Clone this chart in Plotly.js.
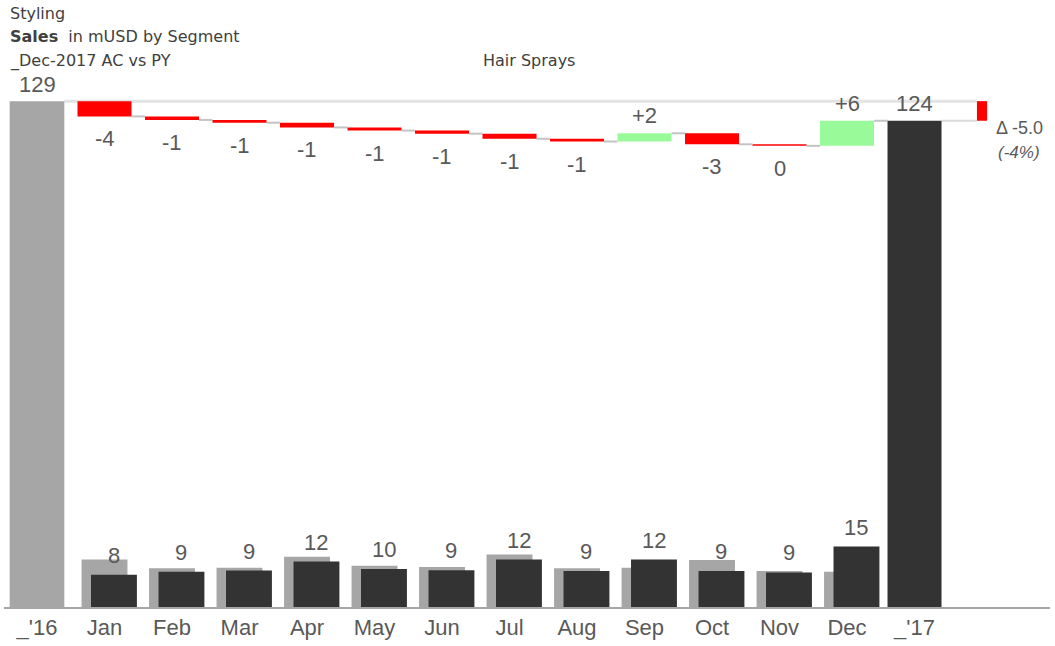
<!DOCTYPE html>
<html>
<head>
<meta charset="utf-8">
<script src="https://cdn.plot.ly/plotly-3.0.1.min.js"></script>
<style>
  html, body { margin: 0; padding: 0; background: #fff; }
  #chart { width: 1055px; height: 646px; }
</style>
</head>
<body>
<div id="chart"></div>
<script>
// Sales in mUSD, Hair Sprays segment: previous year (PY) vs actual (AC)
const categories = ["_'16", "Jan", "Feb", "Mar", "Apr", "May", "Jun", "Jul", "Aug", "Sep", "Oct", "Nov", "Dec", "_'17"];
const months = ["Jan", "Feb", "Mar", "Apr", "May", "Jun", "Jul", "Aug", "Sep", "Oct", "Nov", "Dec"];
const py = [12.1, 9.9, 10.0, 12.8, 10.5, 10.2, 13.4, 9.9, 10.0, 12.0, 9.2, 9.0];
const ac = [8.2, 9.0, 9.3, 11.6, 9.7, 9.4, 12.1, 9.2, 12.1, 9.2, 8.8, 15.4];
const segmentName = "Hair Sprays";

// colours
const C_PY = "#a6a6a6";
const C_AC = "#333333";
const C_NEG = "#ff0000";
const C_POS = "#98fa98";
const C_TXT = "#595959";

const round1 = v => Math.round(v * 10) / 10;
const pyTotal = round1(py.reduce((a, b) => a + b, 0));
const acTotal = round1(ac.reduce((a, b) => a + b, 0));
const delta = months.map((m, i) => round1(ac[i] - py[i]));
const totalDelta = round1(acTotal - pyTotal);
const totalPct = totalDelta / pyTotal * 100;

// running level of the variance bridge, starting from last year's total
const start = [];
let level = pyTotal;
delta.forEach(d => { start.push(level); level = round1(level + d); });
const ends = start.map((s, i) => round1(s + delta[i]));

// x positions: category index; the variance column sits one step past the last category
const xIdx = categories.map((c, i) => i);
const monthX = months.map((m, i) => i + 1);
const deltaX = categories.length;

const W_TOT = 0.81, W_BRIDGE = 0.8, W_MONTH = 0.68, AC_SHIFT = 0.14, W_DELTA = 0.15;

const signed = v => {
  const r = Math.round(v);
  return (r > 0 ? "+" : "") + String(r === 0 ? 0 : r);
};

const traces = [
  { type: "bar", x: [xIdx[0]], y: [pyTotal], width: W_TOT, marker: { color: C_PY }, hoverinfo: "skip" },
  { type: "bar", x: [xIdx[categories.length - 1]], y: [acTotal], width: W_BRIDGE, marker: { color: C_AC }, hoverinfo: "skip" },
  { type: "bar", x: monthX, y: py, width: W_MONTH, marker: { color: C_PY }, hoverinfo: "skip" },
  { type: "bar", x: monthX.map(x => x + AC_SHIFT), y: ac, width: W_MONTH, marker: { color: C_AC }, hoverinfo: "skip" },
  { type: "bar", x: monthX, y: delta, base: start, width: W_BRIDGE,
    marker: { color: delta.map(d => d >= 0 ? C_POS : C_NEG) }, hoverinfo: "skip" },
  { type: "bar", x: [deltaX], y: [totalDelta], base: [pyTotal], width: W_DELTA,
    marker: { color: totalDelta >= 0 ? C_POS : C_NEG }, hoverinfo: "skip" }
];

// reference and connector lines
const shapes = [];
shapes.push({ type: "line", xref: "x", yref: "y", x0: xIdx[0] + W_TOT / 2, x1: deltaX - W_DELTA / 2,
  y0: pyTotal, y1: pyTotal, line: { color: "#e3e3e3", width: 3 }, layer: "below" });
shapes.push({ type: "line", xref: "x", yref: "y", x0: xIdx[categories.length - 1] + W_BRIDGE / 2, x1: deltaX - W_DELTA / 2,
  y0: acTotal, y1: acTotal, line: { color: "#d9d9d9", width: 2 }, layer: "below" });
ends.forEach((e, i) => {
  shapes.push({ type: "line", xref: "x", yref: "y", x0: monthX[i] + W_BRIDGE / 2, x1: monthX[i] + 1 - W_BRIDGE / 2,
    y0: e, y1: e, line: { color: "#c4c4c4", width: 2 }, layer: "below" });
});

const numFont = { family: "Liberation Sans, Arial, sans-serif", size: 22, color: C_TXT };
const headFont = { family: "DejaVu Sans, sans-serif", size: 16, color: "#404040" };

const annotations = [];
annotations.push({ x: xIdx[0], y: pyTotal, text: String(Math.round(pyTotal)), showarrow: false,
  yanchor: "bottom", yshift: 2, font: numFont });
annotations.push({ x: xIdx[categories.length - 1], y: acTotal, text: String(Math.round(acTotal)), showarrow: false,
  yanchor: "bottom", yshift: 3, font: numFont });
ac.forEach((v, i) => {
  annotations.push({ x: monthX[i] + AC_SHIFT, y: v, text: String(Math.round(v)), showarrow: false,
    yanchor: "bottom", yshift: 5, font: numFont });
});
delta.forEach((d, i) => {
  const pos = d > 0;
  annotations.push({ x: monthX[i], y: ends[i], text: signed(d), showarrow: false,
    yanchor: pos ? "bottom" : "top", yshift: pos ? 3 : -8, font: numFont });
});
annotations.push({ x: deltaX, y: acTotal, text: "\u0394 " + totalDelta.toFixed(1), showarrow: false,
  xanchor: "center", xshift: 37, yanchor: "middle", yshift: -7,
  font: { family: "Liberation Sans, Arial, sans-serif", size: 18, color: C_TXT } });
annotations.push({ x: deltaX, y: acTotal, text: "<i>(" + Math.round(totalPct) + "%)</i>", showarrow: false,
  xanchor: "center", xshift: 37, yanchor: "middle", yshift: -32,
  font: { family: "Liberation Sans, Arial, sans-serif", size: 17, color: C_TXT } });

// header lines
annotations.push({ xref: "paper", yref: "paper", x: 0.0038, y: 1.0815, xanchor: "left", yanchor: "middle",
  text: "Styling", showarrow: false, font: headFont });
annotations.push({ xref: "paper", yref: "paper", x: 0.0038, y: 1.0395, xanchor: "left", yanchor: "middle",
  text: "<b>Sales</b>\u00a0 in mUSD by Segment", showarrow: false, font: headFont });
annotations.push({ xref: "paper", yref: "paper", x: 0.0038, y: 0.9950, xanchor: "left", yanchor: "middle",
  text: "_Dec-2017 AC vs PY", showarrow: false, font: headFont });
annotations.push({ xref: "paper", yref: "paper", x: 0.5019, y: 0.9950, xanchor: "center", yanchor: "middle",
  text: segmentName, showarrow: false, font: headFont });

const layout = {
  width: 1055, height: 646,
  margin: { l: 4, r: 5, t: 58, b: 39, pad: 0 },
  paper_bgcolor: "#ffffff", plot_bgcolor: "#ffffff",
  barmode: "overlay",
  showlegend: false,
  xaxis: {
    type: "linear", range: [-0.4889, 15.007],
    tickmode: "array", tickvals: xIdx, ticktext: categories,
    showgrid: false, zeroline: false, showline: true, linecolor: "#a6a6a6", linewidth: 2,
    ticks: "", tickfont: numFont, fixedrange: true
  },
  yaxis: { range: [0, 140], visible: false, fixedrange: true },
  shapes: shapes,
  annotations: annotations
};

Plotly.newPlot("chart", traces, layout, { displayModeBar: false, staticPlot: true });
</script>
</body>
</html>
